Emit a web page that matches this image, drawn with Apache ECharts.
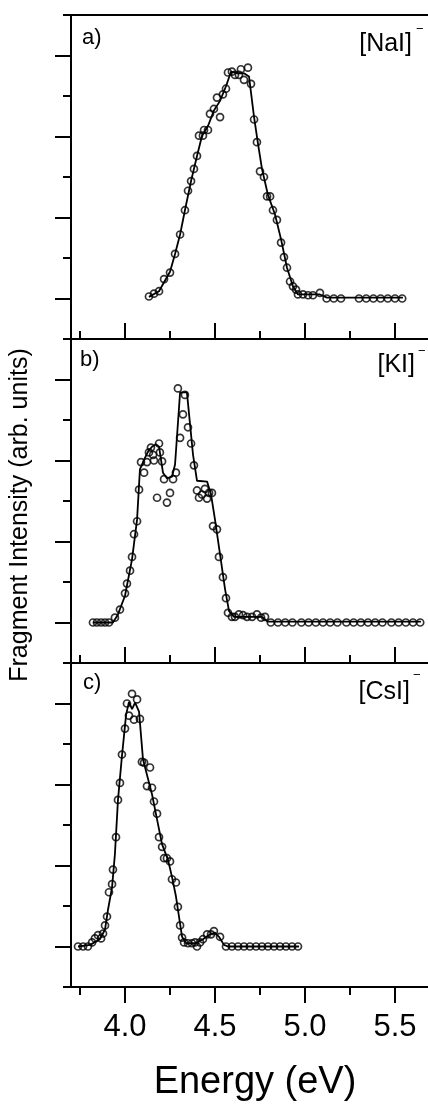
<!DOCTYPE html>
<html>
<head>
<meta charset="utf-8">
<script src="https://cdn.jsdelivr.net/npm/echarts@6/dist/echarts.min.js"></script>
<style>
html,body{margin:0;padding:0;background:#fff;}
#chart{width:428px;height:1109px;}
</style>
</head>
<body>
<div id="chart"></div>
<script>
// ---------- data ----------
const xTickLabels = [4.0, 4.5, 5.0, 5.5];
const xMinorTicks = [3.75, 4.25, 4.75, 5.25];
const panelLetters = ['a)', 'b)', 'c)'];
const panelNames = ['[NaI]', '[KI]', '[CsI]'];
const xTitle = 'Energy (eV)';
const yTitle = 'Fragment Intensity (arb. units)';

// (a) NaI- : measured points
const naiE = [4.133,4.161,4.189,4.217,4.25,4.278,4.306,4.333,4.35,4.367,4.383,4.40,4.411,4.433,4.439,4.461,4.472,4.494,4.511,4.528,4.544,4.561,4.572,4.594,4.611,4.633,4.644,4.661,4.683,4.70,4.717,4.733,4.75,4.772,4.789,4.806,4.822,4.844,4.867,4.883,4.90,4.917,4.933,4.95,4.961,4.989,5.017,5.044,5.083,5.12,5.16,5.20,5.30,5.34,5.38,5.42,5.46,5.50,5.54];
const naiI = [0.025,0.06,0.09,0.24,0.32,0.55,0.79,1.09,1.33,1.45,1.60,1.76,2.01,2.01,2.08,2.08,2.28,2.34,2.48,2.24,2.52,2.59,2.79,2.80,2.76,2.76,2.83,2.70,2.85,2.65,2.21,1.93,1.57,1.50,1.26,1.26,1.09,0.97,0.69,0.51,0.38,0.21,0.15,0.11,0.05,0.05,0.04,0.04,0.07,0,0,0,0,0,0,0,0,0,0];
// (a) NaI- : fitted curve
const naiFitE = [4.133,4.189,4.217,4.25,4.278,4.306,4.333,4.367,4.40,4.428,4.461,4.494,4.528,4.561,4.589,4.628,4.661,4.689,4.717,4.739,4.761,4.794,4.833,4.867,4.90,4.933,4.961,5.083,5.122,5.544];
const naiFitI = [0.02,0.09,0.2,0.33,0.55,0.79,1.09,1.45,1.76,2.01,2.13,2.32,2.44,2.62,2.80,2.78,2.78,2.74,2.24,1.91,1.60,1.28,1.04,0.73,0.38,0.15,0.05,0.05,0.01,0.01];

// (b) KI- : measured points
const kiE = [3.822,3.844,3.867,3.889,3.911,3.944,3.972,4.0,4.011,4.028,4.039,4.05,4.067,4.078,4.089,4.106,4.122,4.133,4.144,4.156,4.161,4.178,4.189,4.194,4.206,4.217,4.233,4.25,4.267,4.283,4.294,4.306,4.322,4.333,4.35,4.367,4.383,4.40,4.411,4.428,4.444,4.456,4.467,4.483,4.489,4.511,4.522,4.544,4.561,4.572,4.594,4.611,4.633,4.656,4.678,4.706,4.733,4.756,4.778,4.81,4.85,4.89,4.93,4.98,5.02,5.06,5.10,5.14,5.18,5.23,5.27,5.31,5.35,5.39,5.43,5.48,5.52,5.56,5.60,5.64];
const kiI = [0,0,0,0,0,0.06,0.16,0.36,0.48,0.64,0.81,1.09,1.25,1.64,1.98,1.85,1.98,2.10,2.16,2.07,2.00,1.54,2.21,2.10,1.99,1.77,1.48,1.60,1.77,1.85,2.89,2.28,2.57,2.81,2.41,2.21,1.94,1.63,1.54,1.58,1.65,1.53,1.60,1.60,1.19,1.15,0.81,0.56,0.30,0.12,0.07,0.07,0.10,0.09,0.07,0.07,0.10,0.06,0.07,0,0,0,0,0,0,0,0,0,0,0,0,0,0,0,0,0,0,0,0,0];
// (b) KI- : fitted curve
const kiFitE = [3.822,3.933,3.961,4.0,4.039,4.067,4.083,4.106,4.128,4.15,4.172,4.189,4.211,4.233,4.261,4.278,4.306,4.344,4.378,4.40,4.456,4.478,4.50,4.528,4.556,4.578,4.606,4.761,4.794,5.644];
const kiFitI = [0,0,0.10,0.33,0.78,1.27,1.89,2.01,2.11,2.17,2.20,2.17,1.85,1.78,1.80,1.95,2.84,2.84,2.07,1.75,1.74,1.58,1.27,0.84,0.41,0.14,0.07,0.07,0.01,0.01];

// (c) CsI- : measured points
const csiE = [3.739,3.767,3.794,3.817,3.833,3.85,3.867,3.878,3.889,3.90,3.911,3.928,3.933,3.95,3.961,3.972,3.983,4.0,4.011,4.022,4.039,4.05,4.067,4.083,4.094,4.106,4.122,4.139,4.15,4.161,4.178,4.189,4.206,4.217,4.233,4.25,4.261,4.283,4.294,4.306,4.317,4.328,4.35,4.372,4.389,4.40,4.417,4.433,4.456,4.478,4.494,4.528,4.561,4.594,4.628,4.661,4.694,4.728,4.761,4.794,4.828,4.861,4.894,4.928,4.961];
const csiI = [0,0,0,0.05,0.10,0.14,0.10,0.16,0.26,0.37,0.67,0.77,0.95,1.35,1.81,2.02,2.37,2.69,3.0,2.85,3.12,2.80,3.05,2.81,2.28,2.27,1.98,2.21,1.96,1.79,1.64,1.35,1.23,1.09,1.09,1.05,0.83,0.79,0.49,0.26,0.11,0.05,0.04,0.04,0.05,0,0.05,0.09,0.15,0.15,0.19,0.12,0,0,0,0,0,0,0,0,0,0,0,0,0];
// (c) CsI- : fitted curve
const csiFitE = [3.739,3.806,3.861,3.889,3.906,3.928,3.944,3.961,3.983,4.006,4.022,4.039,4.056,4.078,4.10,4.122,4.15,4.178,4.206,4.239,4.261,4.283,4.30,4.317,4.339,4.394,4.433,4.472,4.50,4.522,4.55,4.572,4.967];
const csiFitI = [0,0.02,0.09,0.21,0.46,0.73,1.14,1.81,2.35,2.86,3.02,2.93,3.01,2.90,2.31,2.12,1.88,1.57,1.26,1.07,0.86,0.62,0.37,0.12,0.04,0.04,0.09,0.15,0.17,0.12,0.02,0,0];

// ---------- build ----------
const zip = (a, b) => a.map((v, i) => [v, b[i]]);
const points = [[naiE, naiI], [kiE, kiI], [csiE, csiI]];
const fits = [[naiFitE, naiFitI], [kiFitE, kiFitI], [csiFitE, csiFitI]];

const FONT = '"Liberation Sans", Arial, sans-serif';
const gridTops = [15, 339, 663];
const gridH = 324;
const gridLeft = 71;
const gridW = 357;               // runs to the right edge of the picture
const xMin = 3.7;
const xMax = 3.7 + gridW / 180;  // 180 px per eV

const grids = gridTops.map(t => ({
  left: gridLeft, top: t, width: gridW, height: gridH, show: false, outerBoundsMode: 'none'
}));

const xAxes = [];
const yAxes = [];
for (let i = 0; i < 3; i++) {
  xAxes.push({
    gridIndex: i, type: 'value', min: xMin, max: xMax, position: 'bottom',
    axisLine: { show: true, onZero: false, lineStyle: { color: '#000', width: 2 } },
    axisTick: { show: true, inside: i < 2, length: 16, customValues: xTickLabels, lineStyle: { color: '#000', width: 2 } },
    axisLabel: { show: i === 2, customValues: xTickLabels, formatter: v => v.toFixed(1),
      fontSize: 31, color: '#000', fontFamily: FONT, margin: 25 },
    splitLine: { show: false }
  });
}
for (let i = 0; i < 3; i++) {
  xAxes.push({
    gridIndex: i, type: 'value', min: xMin, max: xMax, position: 'bottom',
    axisLine: { show: false, onZero: false },
    axisTick: { show: true, inside: i < 2, length: 8, customValues: xMinorTicks, lineStyle: { color: '#000', width: 2 } },
    axisLabel: { show: false },
    splitLine: { show: false }
  });
}
// top frame line of panel a
xAxes.push({
  gridIndex: 0, type: 'value', min: xMin, max: xMax, position: 'top',
  axisLine: { show: true, onZero: false, lineStyle: { color: '#000', width: 2 } },
  axisTick: { show: false }, axisLabel: { show: false }, splitLine: { show: false }
});
for (let i = 0; i < 3; i++) {
  yAxes.push({
    gridIndex: i, type: 'value', min: -0.5, max: 3.5, interval: 1,
    axisLine: { show: true, onZero: false, lineStyle: { color: '#000', width: 2 } },
    axisTick: { show: true, inside: false, length: 8, lineStyle: { color: '#000', width: 2 } },
    minorTick: { show: true, splitNumber: 2, length: 16, lineStyle: { color: '#000', width: 2 } },
    axisLabel: { show: false },
    splitLine: { show: false }, minorSplitLine: { show: false }
  });
}

const series = [];
for (let i = 0; i < 3; i++) {
  series.push({
    type: 'line', xAxisIndex: i, yAxisIndex: i,
    data: zip(fits[i][0], fits[i][1]),
    showSymbol: false, symbol: 'none', smooth: false,
    lineStyle: { color: '#000', width: 1.8 }, z: 2, silent: true
  });
  series.push({
    type: 'scatter', xAxisIndex: i, yAxisIndex: i,
    data: zip(points[i][0], points[i][1]),
    symbol: 'circle', symbolSize: 7,
    itemStyle: { color: 'rgba(0,0,0,0)', borderColor: '#000', borderWidth: 1.7 },
    z: 3, silent: true
  });
}

const letterPos = [[82, 39], [80, 361], [83, 684]];
const namePos = [[412, 44], [415, 365], [410, 692]];
const supPos = [[416, 29], [418, 351], [413, 675]];
const graphics = [];
for (let i = 0; i < 3; i++) {
  graphics.push({ type: 'text', left: letterPos[i][0], top: letterPos[i][1] - 12,
    style: { text: panelLetters[i], font: '22px ' + FONT, fill: '#000' } });
  graphics.push({ type: 'text', x: namePos[i][0], y: namePos[i][1],
    style: { text: panelNames[i], font: '25px ' + FONT, fill: '#000', align: 'right', verticalAlign: 'middle' } });
  graphics.push({ type: 'text', x: supPos[i][0], y: supPos[i][1],
    style: { text: '\u2212', font: '13px ' + FONT, fill: '#000', align: 'left', verticalAlign: 'middle' } });
}
graphics.push({ type: 'text', x: 20, y: 515, rotation: Math.PI / 2,
  style: { text: yTitle, font: '25px ' + FONT, fill: '#000', align: 'center', verticalAlign: 'middle' } });
graphics.push({ type: 'text', x: 255, y: 1083,
  style: { text: xTitle, font: '38px ' + FONT, fill: '#000', align: 'center', verticalAlign: 'middle' } });

const chart = echarts.init(document.getElementById('chart'), null, { renderer: 'canvas' });
chart.setOption({
  animation: false,
  backgroundColor: '#fff',
  grid: grids,
  xAxis: xAxes,
  yAxis: yAxes,
  series: series,
  graphic: graphics
});
</script>
</body>
</html>
